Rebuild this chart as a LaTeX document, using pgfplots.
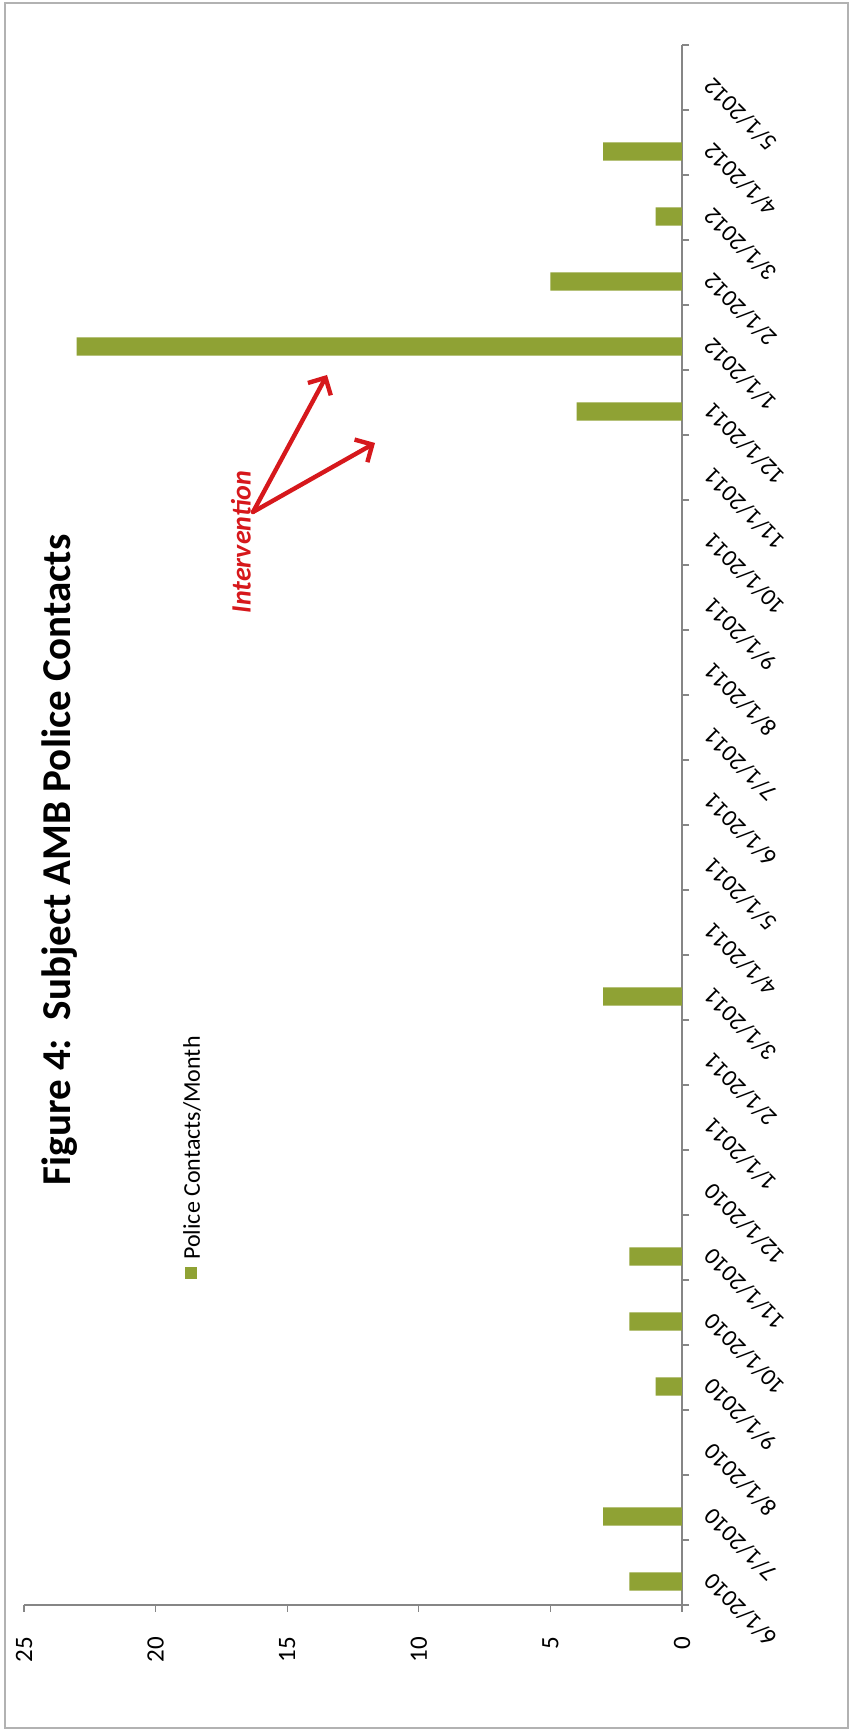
\documentclass[border=0pt]{standalone}
\usepackage{pgfplots}
\pgfplotsset{compat=1.18}
\usepackage{fontspec}
\setmainfont{Carlito}
\usetikzlibrary{arrows.meta}
\definecolor{bargreen}{RGB}{143,162,52}
\definecolor{axgray}{RGB}{134,134,134}
\definecolor{arrred}{RGB}{214,24,28}
\begin{document}
\begin{tikzpicture}
\useasboundingbox (-12pt,-63.5pt) rectangle (413.5pt,802.5pt);
\draw[gray!60, line width=0.6pt] (-9.5pt,-61.5pt) rectangle (412pt,801pt);
\begin{axis}[
  at={(0pt,0pt)}, anchor=south west,
  scale only axis, width=329pt, height=780pt,
  xbar, bar width=0.28, bar shift=-0.14,
  xmin=0, xmax=25, x dir=reverse,
  ymin=-0.5, ymax=23.5,
  axis x line*=bottom, axis y line*=right,
  axis line style={axgray, line width=0.6pt},
  every tick/.style={axgray, line width=0.6pt},
  tick align=outside,
  major tick length=3.5pt,
  xtick={0,5,...,25},
  ytick={-0.5,0.5,...,23.5},
  yticklabels={},
  extra y ticks={0,1,...,23},
  extra y tick labels={6/1/2010,7/1/2010,8/1/2010,9/1/2010,10/1/2010,11/1/2010,12/1/2010,1/1/2011,2/1/2011,3/1/2011,4/1/2011,5/1/2011,6/1/2011,7/1/2011,8/1/2011,9/1/2011,10/1/2011,11/1/2011,12/1/2011,1/1/2012,2/1/2012,3/1/2012,4/1/2012,5/1/2012},
  extra y tick style={major tick length=0pt},
  yticklabel style={font=\fontsize{12}{14}\selectfont, xshift=10.5pt, rotate=135, anchor=east},
  xticklabel style={font=\fontsize{12.5}{14}\selectfont, yshift=-9pt, rotate=90, anchor=east},
  /pgf/number format/assume math mode=true,
  clip=false,
]
\addplot[draw=none, fill=bargreen, x filter/.expression={x==0 ? nan : x}] coordinates {
(2,0) (3,1) (0,2) (1,3) (2,4) (2,5) (0,6) (0,7) (0,8) (3,9) (0,10) (0,11)
(0,12) (0,13) (0,14) (0,15) (0,16) (0,17) (4,18) (23,19) (5,20) (1,21) (3,22) (0,23)
};
\end{axis}
\node[rotate=90, font=\fontsize{20.5}{24}\selectfont\bfseries] at (18pt,372.5pt) {Figure 4:\ \ Subject AMB Police Contacts};
\fill[bargreen] (80.5pt,163pt) rectangle (86.5pt,169pt);
\node[rotate=90, anchor=west, font=\fontsize{12}{14}\selectfont, inner sep=0pt] at (84pt,172.5pt) {Police Contacts/Month};
\node[rotate=90, font=\fontsize{14}{16}\selectfont\bfseries\itshape, text=arrred] at (108.5pt,531.5pt) {Intervention};
\draw[arrred, line width=2.2pt, line cap=round, -{Straight Barb[length=6.5pt,width=13pt]}] (114.5pt,546.5pt) -- (151.5pt,615pt);
\draw[arrred, line width=2.2pt, line cap=round, -{Straight Barb[length=6.5pt,width=13pt]}] (114.5pt,546.5pt) -- (175.5pt,581pt);
\end{tikzpicture}
\end{document}
